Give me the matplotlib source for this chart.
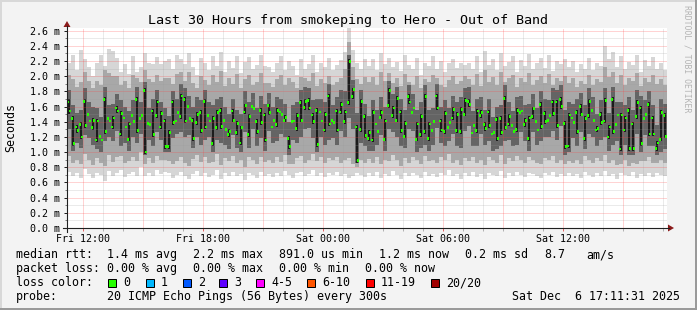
import numpy as np
import matplotlib
matplotlib.use('Agg')
import matplotlib.pyplot as plt
from matplotlib.lines import Line2D
from matplotlib.patches import Rectangle, Polygon

plt.rcParams['font.family'] = ['DejaVu Sans Mono']

W, H, DPI = 697, 310, 100

# ---------------- data ----------------
SPAN_H = 30.0  # hours shown (Fri 11:12 -> Sat 17:12)
tick_hours = [0.8, 6.8, 12.8, 18.8, 24.8]
tick_labels = ['Fri 12:00', 'Fri 18:00', 'Sat 00:00', 'Sat 06:00', 'Sat 12:00']
y_ticks = [0.0, 0.2, 0.4, 0.6, 0.8, 1.0, 1.2, 1.4, 1.6, 1.8, 2.0, 2.2, 2.4, 2.6]
y_tick_labels = ['0.0 m', '0.2 m', '0.4 m', '0.6 m', '0.8 m', '1.0 m', '1.2 m',
                 '1.4 m', '1.6 m', '1.8 m', '2.0 m', '2.2 m', '2.4 m', '2.6 m']

# smoke envelopes (ms), 150 columns of 12 minutes
smoke_lo = [.74,.68,.72,.66,.78,.71,.66,.73,.70,.62,.75,.69,.72,.77,.67,.71,.74,.69,.80,.68,.73,.68,.76,.71,.74,
            .72,.66,.70,.74,.68,.64,.71,.75,.69,.73,.67,.70,.76,.65,.72,.69,.74,.68,.71,.63,.73,.70,.66,.74,.69,
            .71,.67,.73,.69,.75,.70,.66,.72,.74,.68,.71,.76,.69,.73,.67,.72,.70,.74,.68,.71,.66,.69,.73,.70,.67,
            .72,.68,.74,.66,.71,.69,.75,.70,.64,.72,.68,.73,.70,.66,.74,.69,.71,.67,.73,.70,.76,.68,.71,.65,.72,
            .69,.74,.67,.71,.65,.73,.70,.68,.75,.66,.72,.69,.74,.70,.67,.73,.71,.68,.66,.72,.70,.74,.67,.71,.69,
            .73,.68,.71,.66,.74,.70,.67,.72,.69,.75,.68,.71,.65,.73,.70,.68,.74,.66,.71,.69,.73,.67,.72,.70,.68]
smoke_p10 = [.95,.86,.90,.84,.98,.90,.83,.92,.86,.82,.96,.87,.93,.95,.85,.88,.94,.88,1.00,.84,.92,.86,.95,.90,.90,
             .88,.84,.88,.94,.86,.82,.91,.96,.87,.93,.85,.87,.97,.83,.92,.88,.95,.86,.90,.81,.93,.89,.84,.94,.87,
             .90,.85,.93,.87,.96,.84,.84,.92,.95,.86,.90,.97,.88,.93,.85,.92,.89,.94,.86,.90,.92,.84,.80,.89,.85,
             .91,.86,.94,.84,.90,.88,.96,.89,.82,.92,.86,.93,.89,.84,.95,.88,.90,.85,.93,.89,.97,.86,.90,.83,.92,
             .88,.94,.85,.90,.83,.93,.89,.86,.96,.84,.92,.88,.95,.89,.85,.93,.90,.86,.84,.92,.89,.95,.85,.90,.84,
             .88,.86,.90,.84,.95,.89,.85,.92,.88,.96,.86,.90,.83,.84,.89,.82,.86,.84,.88,.88,.93,.85,.86,.89,.86]
smoke_p30 = [1.30,1.02,1.12,1.06,1.22,1.18,1.10,1.04,1.00,1.14,1.20,1.14,1.28,1.08,1.12,1.02,1.20,1.12,1.24,.96,1.16,1.08,1.26,1.16,1.00,
             1.00,1.18,1.24,1.26,1.20,1.22,1.06,1.20,1.10,1.16,1.20,1.00,1.16,1.12,1.10,1.04,1.22,1.06,1.00,1.26,1.06,1.30,1.08,1.18,1.02,
             1.28,1.12,1.14,1.24,1.20,.96,1.16,1.12,1.20,1.30,1.32,1.18,1.00,1.20,1.10,1.16,1.18,1.10,1.28,1.20,1.45,1.30,.86,1.12,1.08,
             1.02,1.02,1.10,1.22,1.02,1.30,1.26,1.20,1.08,1.06,1.30,1.28,1.00,1.06,1.10,1.02,1.10,1.32,1.12,1.08,1.14,1.24,1.08,1.06,1.28,
             1.34,1.08,1.08,1.24,1.10,1.14,1.02,1.04,1.08,1.14,1.16,1.08,1.10,1.26,1.14,1.02,1.26,1.10,1.14,1.20,1.20,1.28,1.16,1.34,.96,
             1.00,1.18,1.08,1.26,1.04,1.24,1.20,1.08,1.16,1.20,1.02,1.10,1.14,.96,1.10,.96,.96,1.24,1.00,1.22,1.08,1.08,.96,1.00,1.04]
core_lo = [1.50,1.08,1.25,1.17,1.32,1.41,1.29,1.13,1.16,1.24,1.41,1.30,1.51,1.21,1.33,1.14,1.40,1.25,1.44,.97,1.36,1.20,1.45,1.30,1.04,
           1.04,1.36,1.41,1.44,1.38,1.44,1.15,1.36,1.25,1.30,1.41,1.08,1.29,1.31,1.30,1.20,1.39,1.23,1.09,1.50,1.20,1.57,1.24,1.36,1.13,
           1.49,1.42,1.33,1.50,1.39,1.04,1.40,1.28,1.39,1.56,1.55,1.37,1.07,1.41,1.26,1.34,1.39,1.26,1.50,1.37,1.62,1.70,.86,1.27,1.19,
           1.15,1.13,1.27,1.43,1.14,1.58,1.45,1.39,1.25,1.18,1.63,1.58,1.14,1.20,1.24,1.15,1.40,1.55,1.26,1.24,1.39,1.42,1.25,1.24,1.47,
           1.60,1.35,1.25,1.45,1.28,1.32,1.26,1.15,1.23,1.29,1.34,1.27,1.27,1.54,1.33,1.15,1.44,1.29,1.31,1.37,1.48,1.48,1.32,1.57,1.04,
           1.05,1.39,1.24,1.47,1.15,1.45,1.42,1.26,1.36,1.38,1.17,1.24,1.49,1.01,1.26,1.02,1.02,1.44,1.08,1.44,1.21,1.21,1.02,1.14,1.18]
core_hi = [1.70,1.47,1.36,1.39,1.70,1.41,1.45,1.44,1.16,1.72,1.41,1.48,1.61,1.54,1.33,1.40,1.40,1.72,1.44,1.84,1.36,1.57,1.69,1.54,1.44,
           1.29,1.69,1.41,1.77,1.72,1.44,1.45,1.53,1.55,1.70,1.41,1.47,1.55,1.58,1.30,1.30,1.57,1.41,1.35,1.64,1.50,1.57,1.43,1.58,1.52,
           1.64,1.42,1.58,1.50,1.49,1.21,1.40,1.51,1.68,1.70,1.71,1.52,1.58,1.41,1.53,1.77,1.39,1.57,1.66,1.56,2.22,1.85,1.36,1.70,1.50,
           1.29,1.55,1.27,1.55,1.44,1.84,1.61,1.74,1.56,1.41,1.76,1.58,1.40,1.50,1.76,1.40,1.40,1.77,1.44,1.54,1.39,1.59,1.53,1.59,1.71,
           1.70,1.35,1.57,1.55,1.39,1.56,1.26,1.46,1.47,1.74,1.50,1.27,1.58,1.54,1.45,1.48,1.60,1.29,1.66,1.54,1.48,1.69,1.69,1.72,1.41,
           1.52,1.39,1.55,1.63,1.47,1.70,1.42,1.34,1.53,1.71,1.36,1.72,1.49,1.52,1.48,1.58,1.40,1.68,1.61,1.44,1.66,1.48,1.15,1.55,1.51]
smoke_p70 = [1.82,1.62,1.52,1.55,1.84,1.66,1.60,1.58,1.46,1.86,1.62,1.64,1.76,1.68,1.60,1.54,1.68,1.86,1.66,1.92,1.58,1.70,1.82,1.66,1.58,
             1.48,1.80,1.70,1.90,1.84,1.74,1.60,1.72,1.68,1.82,1.66,1.62,1.70,1.72,1.60,1.50,1.70,1.56,1.50,1.80,1.66,1.78,1.58,1.74,1.64,
             1.78,1.60,1.72,1.70,1.64,1.40,1.62,1.66,1.82,1.86,1.84,1.68,1.70,1.70,1.66,1.90,1.62,1.72,1.82,1.80,2.28,1.95,1.52,1.82,1.64,
             1.48,1.68,1.56,1.72,1.60,1.94,1.76,1.86,1.70,1.56,1.88,1.76,1.56,1.66,1.88,1.56,1.58,1.90,1.60,1.68,1.58,1.74,1.66,1.72,1.84,
             1.86,1.54,1.70,1.72,1.56,1.70,1.46,1.60,1.62,1.88,1.66,1.54,1.72,1.74,1.62,1.64,1.76,1.58,1.80,1.70,1.68,1.84,1.82,1.88,1.56,
             1.66,1.64,1.70,1.78,1.62,1.84,1.72,1.50,1.68,1.84,1.52,1.86,1.66,1.66,1.62,1.72,1.56,1.82,1.74,1.68,1.80,1.62,1.36,1.70,1.64]
smoke_p90 = [2.02,1.96,1.86,1.92,2.06,1.94,1.85,1.94,1.88,2.08,2.04,2.00,2.00,1.88,1.94,1.84,2.02,1.98,1.92,2.08,1.96,1.93,2.01,1.94,1.97,
             1.98,1.90,2.03,2.06,1.94,2.05,1.91,1.84,2.00,1.95,1.88,2.02,1.92,2.07,1.87,1.97,1.90,2.03,1.85,1.96,2.01,1.89,1.93,2.04,1.91,
             1.91,1.86,1.96,2.02,1.88,1.98,1.92,1.84,1.99,1.98,1.94,2.04,1.87,1.96,1.91,2.00,1.88,1.93,1.98,2.10,2.45,2.12,1.96,1.90,1.99,
             1.93,1.99,1.88,2.05,1.94,2.04,1.91,1.97,1.87,2.03,1.93,1.89,2.00,1.84,1.96,1.92,2.02,1.98,1.88,1.86,1.95,2.00,1.90,1.94,2.00,
             1.96,1.89,2.03,1.87,2.08,1.93,1.99,1.88,2.05,1.92,1.97,2.02,1.86,1.98,1.93,2.04,1.89,1.95,2.00,1.91,2.03,1.88,1.97,1.94,2.00,
             1.91,1.98,1.86,1.94,1.90,2.01,1.88,1.96,1.93,2.12,1.99,2.06,1.91,2.02,1.89,1.97,1.94,2.04,1.87,1.98,1.92,2.01,1.90,1.96,1.88]
smoke_hi = [2.18,2.28,2.08,2.34,2.22,2.12,2.00,2.18,2.28,2.14,2.36,2.33,2.24,2.06,2.16,2.03,2.27,2.05,2.12,2.30,2.18,2.16,2.25,2.16,2.20,
            2.22,2.10,2.28,2.22,2.16,2.30,2.12,2.02,2.24,2.18,2.08,2.26,2.14,2.32,2.06,2.20,2.11,2.27,2.04,2.19,2.25,2.09,2.15,2.28,2.13,
            2.12,2.05,2.18,2.26,2.08,2.20,2.14,2.02,2.22,2.10,2.16,2.28,2.06,2.18,2.12,2.24,2.08,2.15,2.21,2.32,2.64,2.35,2.18,2.10,2.22,
            2.14,2.22,2.08,2.30,2.16,2.24,2.12,2.19,2.07,2.28,2.15,2.10,2.24,2.02,2.18,2.13,2.26,2.09,2.20,2.06,2.17,2.23,2.11,2.18,2.15,
            2.18,2.10,2.27,2.06,2.33,2.15,2.22,2.08,2.30,2.13,2.19,2.26,2.05,2.21,2.14,2.29,2.09,2.17,2.24,2.11,2.28,2.07,2.20,2.16,2.23,
            2.12,2.20,2.06,2.16,2.10,2.24,2.08,2.18,2.14,2.40,2.22,2.32,2.12,2.26,2.09,2.19,2.15,2.28,2.06,2.21,2.13,2.25,2.10,2.18,2.08]

# median rtt (ms), 300 steps of 6 minutes
median_rtt = [1.66,1.54,1.44,1.11,1.33,1.28,1.36,1.20,1.67,1.35,1.50,1.41,1.32,1.42,1.16,1.41,1.21,1.16,1.69,1.27,1.44,1.41,1.33,1.45,1.58,
              1.54,1.24,1.51,1.45,1.33,1.17,1.37,1.48,1.40,1.69,1.28,1.44,1.48,1.81,1.00,1.38,1.36,1.54,1.23,1.48,1.66,1.33,1.51,1.41,1.07,
              1.07,1.26,1.66,1.39,1.41,1.52,1.47,1.74,1.69,1.41,1.60,1.44,1.42,1.18,1.39,1.50,1.52,1.28,1.67,1.33,1.48,1.41,1.11,1.44,1.32,
              1.52,1.55,1.34,1.42,1.30,1.23,1.27,1.54,1.42,1.26,1.38,1.12,1.32,1.53,1.61,1.23,1.47,1.60,1.57,1.40,1.27,1.55,1.39,1.49,1.16,
              1.61,1.52,1.33,1.42,1.36,1.55,1.53,1.50,1.42,1.46,1.18,1.07,1.40,1.41,1.31,1.48,1.65,1.42,1.59,1.67,1.68,1.58,1.49,1.40,1.55,
              1.10,1.53,1.41,1.29,1.50,1.74,1.37,1.42,1.39,1.54,1.29,1.53,1.63,1.40,1.53,1.65,2.19,1.73,1.82,1.33,0.89,1.30,1.67,1.47,1.22,
              1.18,1.26,1.16,1.52,1.37,1.27,1.46,1.52,1.17,1.41,1.61,1.81,1.48,1.58,1.42,1.71,1.53,1.28,1.21,1.38,1.73,1.66,1.52,1.58,1.17,
              1.37,1.23,1.47,1.27,1.73,1.18,1.37,1.28,1.40,1.74,1.58,1.41,1.29,1.27,1.51,1.32,1.39,1.45,1.56,1.28,1.50,1.27,1.56,1.50,1.68,
              1.67,1.63,1.25,1.35,1.28,1.54,1.48,1.52,1.36,1.31,1.53,1.35,1.24,1.26,1.43,1.18,1.44,1.26,1.71,1.32,1.37,1.47,1.35,1.27,1.30,
              1.55,1.52,1.54,1.36,1.42,1.18,1.45,1.47,1.57,1.40,1.29,1.63,1.34,1.51,1.40,1.42,1.48,1.66,1.51,1.66,1.35,1.69,1.60,1.38,1.07,
              1.08,1.49,1.45,1.39,1.52,1.27,1.60,1.50,1.18,1.44,1.48,1.67,1.55,1.42,1.29,1.31,1.50,1.39,1.41,1.68,1.20,1.33,1.69,1.27,1.36,
              1.49,1.04,1.49,1.29,1.45,1.55,1.05,1.37,1.05,1.47,1.65,1.58,1.11,1.44,1.50,1.63,1.24,1.45,1.24,1.05,1.12,1.17,1.52,1.48,1.21]

title = 'Last 30 Hours from smokeping to Hero - Out of Band'
legend_rows = [
    [('median rtt:', 16), ('1.4 ms avg', 107.3), ('2.2 ms max', 193.3), ('891.0 us min', 279.3),
     ('1.2 ms now', 379.3), ('0.2 ms sd', 465.3), ('8.7', 544), ('am/s', 586)],
    [('packet loss:', 16), ('0.00 % avg', 107.3), ('0.00 % max', 193.3), ('0.00 % min', 279.3),
     ('0.00 % now', 365)],
]
loss_labels = ['0', '1', '2', '3', '4-5', '6-10', '11-19', '20/20']
loss_colors = ['#26ff00', '#00b8ff', '#0059ff', '#5e00ff', '#ff00ff', '#ff5500', '#ff0000', '#a10000']
loss_box_x = [108.3, 145.7, 182.7, 219.3, 256, 307.3, 365.7, 430.7]
probe_text = '20 ICMP Echo Pings (56 Bytes) every 300s'
stamp_text = 'Sat Dec  6 17:11:31 2025'

# ---------------- figure ----------------
BG = '#f3f3f3'
fig = plt.figure(figsize=(W / DPI, H / DPI), dpi=DPI, facecolor=BG)

def fx(px):
    return px / W

def fy(py):
    return 1 - py / H

PL, PR, PT, PB = 67, 667, 28, 228
ax = fig.add_axes([fx(PL), fy(PB), (PR - PL) / W, (PB - PT) / H])
ax.set_facecolor('white')
ax.set_xlim(0, SPAN_H)
ax.set_ylim(0, 2.635)
for s in ax.spines.values():
    s.set_visible(False)

# smoke
n = len(smoke_hi)
cw = SPAN_H / n
edges = np.arange(n + 1) * cw
def ext(a):
    a = np.asarray(a, float)
    return np.append(a, a[-1])
bands = [(smoke_lo, smoke_hi, '#d6d6d6'),
         (smoke_p10, smoke_p90, '#a8a8a8'),
         (smoke_p30, smoke_p70, '#646464')]
for lo, hi, c in bands:
    ax.fill_between(edges, ext(lo), ext(hi), step='post', color=c, lw=0,
                    antialiased=False, zorder=2)
clo = np.asarray(core_lo)
chi = np.asarray(core_hi)
ax.bar(edges[:-1] + cw * 0.5, chi - clo, bottom=clo, width=cw * 0.5,
       color='#1c1c1c', lw=0, antialiased=False, zorder=2.5)

# grid (drawn over data, like rrdtool)
for k in range(1, 27):
    yv = k * 0.1
    major = (k % 2 == 0)
    ax.axhline(yv, color='#ff4040' if major else '#9a9a9a',
               alpha=0.45 if major else 0.4, lw=0.72,
               ls=(0, (1, 1)), zorder=3)
for k in range(0, 30):
    hv = 0.8 + k
    major = (k % 3 == 0)
    ax.axvline(hv, color='#ff4040' if major else '#9a9a9a',
               alpha=0.45 if major else 0.4, lw=0.72, ls=(0, (1, 1)), zorder=3)

# median markers
m = len(median_rtt)
mstep = SPAN_H / m
mx = (np.arange(m) + 0.5) * mstep
med = np.asarray(median_rtt)
ax.bar(mx, 0.036, bottom=med - 0.018, width=mstep, color='#26ff00', lw=0,
       antialiased=False, zorder=5)

# ticks
ax.set_xticks(tick_hours, tick_labels)
ax.set_xticks([0.8 + k for k in range(30)], minor=True)
ax.set_yticks(y_ticks, y_tick_labels)
ax.set_yticks([0.1 * k for k in range(27)], minor=True)
ax.tick_params(axis='x', which='major', length=2.2, width=0.72, color='#e06060',
               labelsize=7.2, pad=1.8, direction='out')
ax.tick_params(axis='x', which='minor', length=2.2, width=0.72, color='#b0b0b0',
               direction='out')
ax.tick_params(axis='y', which='major', length=2.2, width=0.72, color='#202020',
               labelsize=7.2, pad=2.9, direction='out')
ax.tick_params(axis='y', which='minor', length=1.4, width=0.72, color='#808080',
               direction='out')

# axes lines + arrows (pixel coordinates)
AXC = '#202020'
ARC = '#8b1a1a'
fig.add_artist(Line2D([fx(63), fx(669)], [fy(228), fy(228)], color=AXC, lw=0.8))
fig.add_artist(Line2D([fx(67), fx(67)], [fy(232), fy(26)], color=AXC, lw=0.8))
fig.add_artist(Polygon([[fx(668), fy(224.5)], [fx(674), fy(228)], [fx(668), fy(231.5)]],
                       closed=True, color=ARC, lw=0))
fig.add_artist(Polygon([[fx(63.5), fy(27)], [fx(67), fy(21)], [fx(70.5), fy(27)]],
                       closed=True, color=ARC, lw=0))

# frame shading
fig.add_artist(Rectangle((0, fy(2)), 1, 2 / H, color='#d8d8d8', lw=0))
fig.add_artist(Rectangle((0, 0), 2 / W, 1, color='#d8d8d8', lw=0))
fig.add_artist(Rectangle((0, 0), 1, 2 / H, color='#9a9a9a', lw=0))
fig.add_artist(Rectangle((1 - 2 / W, 0), 2 / W, 1, color='#9a9a9a', lw=0))

# texts
fig.text(fx(348.5), fy(24), title, ha='center', va='baseline', size=9.6)
fig.text(fx(11), fy(128), 'Seconds', rotation=90, ha='center', va='center', size=8.4)
fig.text(fx(687.5), fy(5), 'RRDTOOL / TOBI OETIKER', rotation=270, ha='center',
         va='top', size=5.9, color='#b4b4b4')

LS = 8.4
row_base = [258.3, 272.2, 286.2, 300.0]
for r, row in enumerate(legend_rows):
    for txt, xp in row:
        fig.text(fx(xp), fy(row_base[r]), txt, ha='left', va='baseline', size=LS)
fig.text(fx(16), fy(row_base[2]), 'loss color:', ha='left', va='baseline', size=LS)
for lab, col, bx in zip(loss_labels, loss_colors, loss_box_x):
    fig.add_artist(Rectangle((fx(bx), fy(286.5)), 8 / W, 8 / H, facecolor=col,
                             edgecolor='black', lw=0.72))
    fig.text(fx(bx + 15), fy(row_base[2]), lab, ha='left', va='baseline', size=LS)
fig.text(fx(16), fy(row_base[3]), 'probe:', ha='left', va='baseline', size=LS)
fig.text(fx(107.3), fy(row_base[3]), probe_text, ha='left', va='baseline', size=LS)
fig.text(fx(680.5), fy(row_base[3]), stamp_text, ha='right', va='baseline', size=LS)

fig.savefig('out.png', dpi=DPI, facecolor=BG)
